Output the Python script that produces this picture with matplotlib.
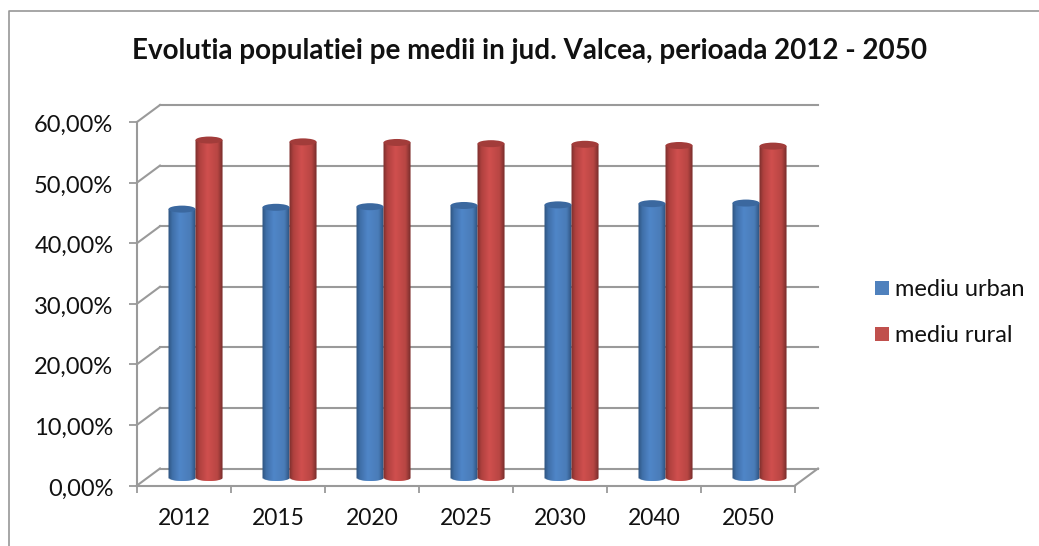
# recreates the 3D looking cylinder chart of population by environment
import numpy as np
import matplotlib
matplotlib.use("Agg")
import matplotlib.pyplot as plt
from matplotlib.colors import LinearSegmentedColormap
from matplotlib.lines import Line2D
from matplotlib.patches import Ellipse, Rectangle
from matplotlib.transforms import ScaledTranslation

plt.rcParams['font.family'] = ['Lato', 'DejaVu Sans']

# chart data
years = ["2012", "2015", "2020", "2025", "2030", "2040", "2050"]
urban = [44.3, 44.6, 44.7, 44.9, 45.0, 45.2, 45.3]
rural = [55.7, 55.4, 55.3, 55.1, 55.0, 54.8, 54.7]
y_ticks = [0, 10, 20, 30, 40, 50, 60]
y_labels = ["0,00%", "10,00%", "20,00%", "30,00%", "40,00%", "50,00%", "60,00%"]

title = "Evolutia populatiei pe medii in jud. Valcea, perioada 2012 - 2050"
urban_label = "mediu urban"
rural_label = "mediu rural"

W = 1039
H = 546
DPI = 100
GRID = "#9a9a9a"
# depth of the fake 3D box, in pixels
DEPTH_X = 23
DEPTH_Y = 17
BAR_WIDTH = 27 / 94
ELLIPSE_PX = 7
SLICES = 27

blue_map = LinearSegmentedColormap.from_list("b", [(0, "#2f5480"), (.14, "#3f6fa8"), (.42, "#4f86c8"), (.82, "#4a7cb8"), (1, "#2f5380")])
red_map = LinearSegmentedColormap.from_list("r", [(0, "#7d2f2d"), (.14, "#ae403e"), (.45, "#d04f4e"), (.82, "#b84643"), (1, "#7a2e2c")])


def px(x, y):
	# figure fraction from picture pixels
	return x / W, 1 - y / H


def offset(ax, dx, dy):
	# transform shifting data by a number of pixels, used for the depth
	return ax.transData + ScaledTranslation(dx / DPI, -dy / DPI, ax.figure.dpi_scale_trans)


def drawCylinder(ax, center, value, cmap, cap_color, trans):
	# a cylinder is a lot of thin bars following the bottom ellipse, then a top cap
	px_per_unit = (485.5 - 122) / 60
	edge = ELLIPSE_PX / 2 / px_per_unit
	step = BAR_WIDTH / SLICES
	for i in range(SLICES):
		u = (i + .5) / SLICES * 2 - 1
		left = center - BAR_WIDTH / 2 + i * step
		drop = edge * np.sqrt(1 - u * u)
		# slices overlap a little so no seams show, the last one must not stick out
		width = step if i == SLICES - 1 else step * 1.6
		bars = ax.bar(left, value + drop, width, bottom=-drop, align="edge",
			color=cmap((u + 1) / 2), linewidth=0,
			transform=trans, zorder=3, clip_on=False)
		bars[0].set_snap(False)
	ax.add_patch(Ellipse((center, value), BAR_WIDTH, edge * 2, facecolor=cap_color,
		edgecolor="none", transform=trans, zorder=4, clip_on=False))


def main():
	fig = plt.figure(figsize=(W / DPI, H / DPI), dpi=DPI)

	# outer chart frame, only top and left are visible in the picture
	fig.add_artist(Line2D([8.5 / W, 8.5 / W, 1], [0, 1 - 10.5 / H, 1 - 10.5 / H],
		color="#979797", linewidth=1.2, transform=fig.transFigure))

	# the axes is the front plane of the box
	x0, y0 = px(137, 485.5)
	x1, y1 = px(795, 122)
	ax = fig.add_axes([x0, y0, x1 - x0, y1 - y0])
	ax.patch.set_alpha(0)
	n = len(years)
	ax.set_xlim(0, n)
	ax.set_ylim(0, 60)
	for side in ["top", "right"]:
		ax.spines[side].set_visible(False)
	for side in ["left", "bottom"]:
		ax.spines[side].set_color(GRID)
		ax.spines[side].set_linewidth(1.5)

	ax.set_yticks(y_ticks)
	ax.set_yticklabels(y_labels, fontsize=17, color="#111111")
	ax.tick_params(axis="y", length=6, width=1.3, color=GRID, pad=11)
	# labels sit a bit under their ticks in the original
	for label in ax.get_yticklabels():
		label.set_transform(label.get_transform() + ScaledTranslation(0, -1.5 / DPI, fig.dpi_scale_trans))
	ax.set_xticks(range(n + 1))
	ax.set_xticklabels([])
	ax.tick_params(axis="x", length=5, width=1.3, color=GRID)
	for i in range(n):
		ax.annotate(years[i], (i + .5, 0), xytext=(0, -33), textcoords="offset pixels",
			ha="center", va="center", fontsize=16.5, color="#111111", annotation_clip=False)

	# back wall gridlines and the slanted lines going to them
	back = offset(ax, DEPTH_X, -DEPTH_Y)
	y_step = DEPTH_Y / ((485.5 - 122) / 60)
	x_step = DEPTH_X / ((795 - 137) / n)
	for tick in y_ticks:
		ax.plot([0, n], [tick, tick], color=GRID, linewidth=1.5, transform=back, zorder=1, clip_on=False)
		ax.plot([0, x_step], [tick, tick + y_step], color=GRID, linewidth=1.5, zorder=1, clip_on=False)
	ax.plot([n, n + x_step], [0, y_step], color=GRID, linewidth=1.5, zorder=1, clip_on=False)

	# the cylinders stand in the middle of the depth
	mid = offset(ax, DEPTH_X / 2, -DEPTH_Y / 2 + 0.5)
	for i in range(n):
		drawCylinder(ax, i + .5 - BAR_WIDTH / 2, urban[i], blue_map, "#3b689f", mid)
		drawCylinder(ax, i + .5 + BAR_WIDTH / 2, rural[i], red_map, "#a23c3a", mid)

	# legend built by hand so the swatches land where the original has them
	for label, color, y in [(urban_label, "#4f81bd", 288), (rural_label, "#c0504d", 334)]:
		lx, ly = px(875, y + 7)
		fig.add_artist(Rectangle((lx, ly), 14 / W, 14 / H, facecolor=color, edgecolor="none",
			transform=fig.transFigure))
		tx, ty = px(895, y + 2)
		fig.text(tx, ty, label, fontsize=17, color="#111111", va="center", ha="left")

	tx, ty = px(530, 51)
	fig.text(tx, ty, title, fontsize=20, fontweight="bold", color="#111111", ha="center", va="center")

	fig.savefig("out.png", dpi=DPI)


if __name__ == "__main__":
	main()
